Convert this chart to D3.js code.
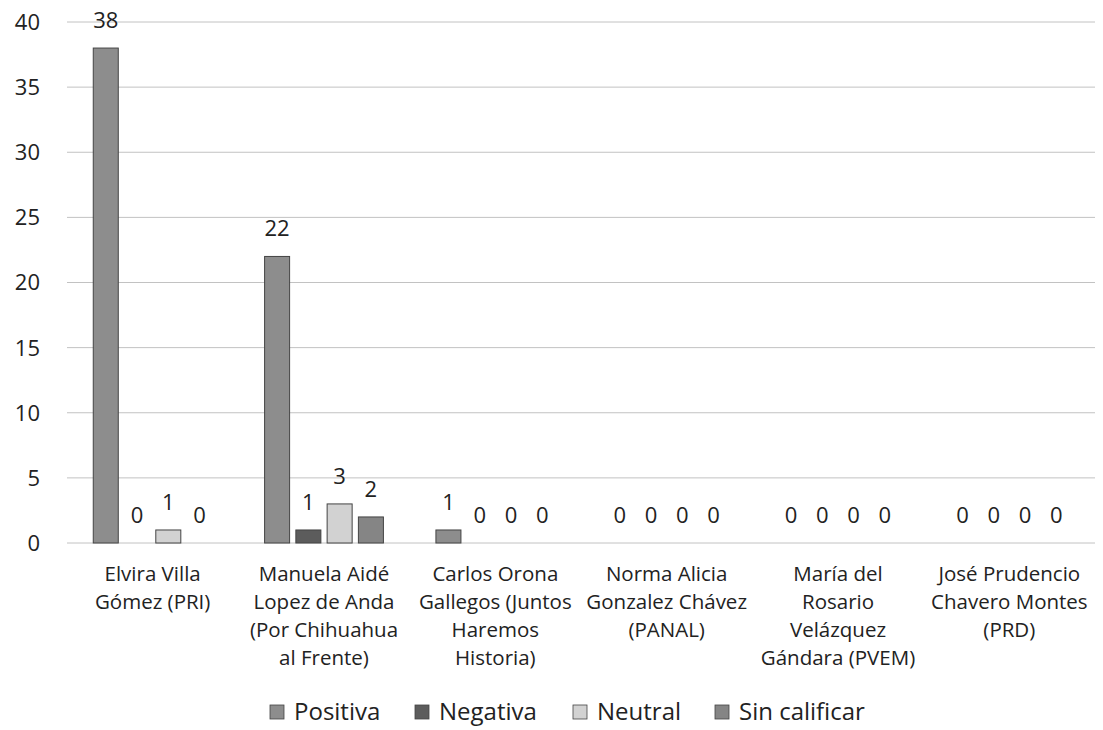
<!DOCTYPE html>
<html>
<head>
<meta charset="utf-8">
<script src="https://cdn.jsdelivr.net/npm/d3@7"></script>
<style>
  html, body { margin: 0; padding: 0; background: #fff; }
  svg { display: block; font-family: "Open Sans", sans-serif; }
</style>
</head>
<body>
<div id="chart"></div>
<script>
// Valoración por candidato (escaneo en grises)
const candidates = [
  "Elvira Villa Gómez (PRI)",
  "Manuela Aidé Lopez de Anda (Por Chihuahua al Frente)",
  "Carlos Orona Gallegos (Juntos Haremos Historia)",
  "Norma Alicia Gonzalez Chávez (PANAL)",
  "María del Rosario Velázquez Gándara (PVEM)",
  "José Prudencio Chavero Montes (PRD)"
];
const candidateLines = [
  ["Elvira Villa", "Gómez (PRI)"],
  ["Manuela Aidé", "Lopez de Anda", "(Por Chihuahua", "al Frente)"],
  ["Carlos Orona", "Gallegos (Juntos", "Haremos", "Historia)"],
  ["Norma Alicia", "Gonzalez Chávez", "(PANAL)"],
  ["María del", "Rosario", "Velázquez", "Gándara (PVEM)"],
  ["José Prudencio", "Chavero Montes", "(PRD)"]
];
const seriesNames = ["Positiva", "Negativa", "Neutral", "Sin calificar"];
const positiva     = [38, 22, 1, 0, 0, 0];
const negativa     = [0, 1, 0, 0, 0, 0];
const neutral      = [1, 3, 0, 0, 0, 0];
const sinCalificar = [0, 2, 0, 0, 0, 0];
const yTicks = [0, 5, 10, 15, 20, 25, 30, 35, 40];

const seriesValues = [positiva, negativa, neutral, sinCalificar];
const colors = ["#8d8d8d", "#5c5c5c", "#d2d2d2", "#858585"];

const W = 1103, H = 730;
const plotL = 67, plotR = 1095, plotT = 22, plotB = 543;

const svg = d3.select("#chart").append("svg")
  .attr("width", W).attr("height", H);

const x0 = d3.scaleBand().domain(candidates).range([plotL, plotR])
  .paddingInner(0.27).paddingOuter(0.135);
const x1 = d3.scaleBand().domain(seriesNames).range([0, x0.bandwidth()])
  .paddingInner(0.2).paddingOuter(0.1);
const y = d3.scaleLinear().domain([0, 40]).range([plotB, plotT]);

// gridlines
svg.append("g")
  .selectAll("line").data(yTicks).join("line")
  .attr("x1", plotL).attr("x2", plotR)
  .attr("y1", d => y(d)).attr("y2", d => y(d))
  .attr("stroke", "#c2c2c2").attr("stroke-width", 1);

// y tick labels
svg.append("g")
  .selectAll("text").data(yTicks).join("text")
  .attr("x", 40).attr("y", d => y(d)).attr("dy", "0.36em")
  .attr("text-anchor", "end")
  .attr("font-size", 22).attr("fill", "#222")
  .text(d => d);

// bars
const rows = [];
candidates.forEach((c, i) => {
  seriesNames.forEach((s, j) => rows.push({ c, s, j, v: seriesValues[j][i] }));
});

svg.append("g")
  .selectAll("rect").data(rows.filter(d => d.v > 0)).join("rect")
  .attr("x", d => x0(d.c) + x1(d.s))
  .attr("y", d => y(d.v))
  .attr("width", x1.bandwidth())
  .attr("height", d => y(0) - y(d.v))
  .attr("fill", d => colors[d.j])
  .attr("stroke", "#444").attr("stroke-width", 1);

// value labels
svg.append("g")
  .selectAll("text").data(rows).join("text")
  .attr("x", d => x0(d.c) + x1(d.s) + x1.bandwidth() / 2)
  .attr("y", d => y(d.v) - 20)
  .attr("text-anchor", "middle")
  .attr("font-size", 22).attr("fill", "#222")
  .text(d => d.v);

// category labels
const cat = svg.append("g").selectAll("text").data(candidates).join("text")
  .attr("text-anchor", "middle")
  .attr("font-size", 20.5).attr("fill", "#222");
cat.selectAll("tspan").data((d, i) => candidateLines[i].map(t => ({ t, d })))
  .join("tspan")
  .attr("x", d => x0(d.d) + x0.bandwidth() / 2)
  .attr("y", (d, k) => 581 + k * 28)
  .text(d => d.t);

// legend
const legendX = [270, 415, 573, 715];
const lg = svg.append("g").selectAll("g").data(seriesNames).join("g")
  .attr("transform", (d, i) => `translate(${legendX[i]},712)`);
lg.append("rect")
  .attr("x", 0).attr("y", -7).attr("width", 14).attr("height", 14)
  .attr("fill", (d, i) => colors[i]).attr("stroke", "#444").attr("stroke-width", 0.8);
lg.append("text")
  .attr("x", 24).attr("dy", "0.34em")
  .attr("font-size", 24).attr("fill", "#222")
  .text(d => d);
</script>
</body>
</html>
